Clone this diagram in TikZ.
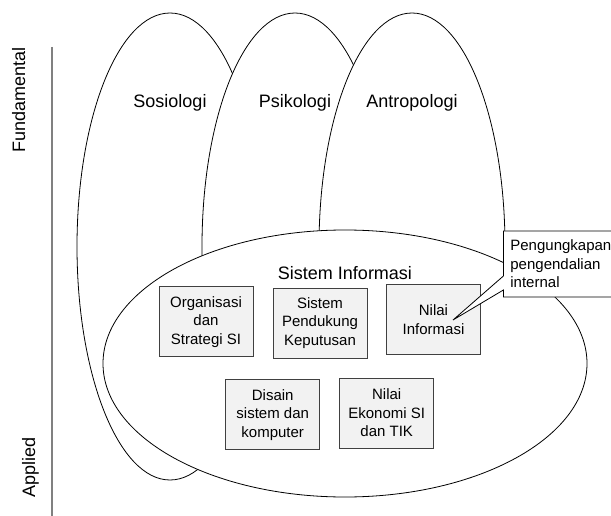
\documentclass[tikz,border=0pt]{standalone}
\usepackage{fontspec}
\setmainfont{Liberation Sans}
\usetikzlibrary{shapes.callouts}
\definecolor{boxfill}{HTML}{F2F2F2}
\definecolor{boxline}{HTML}{404040}
\definecolor{axisgray}{HTML}{808080}
\begin{document}
\begin{tikzpicture}[x=1pt,y=-1pt,
  field/.style={draw=black,fill=white,line width=0.8pt},
  topic/.style={draw=boxline,fill=boxfill,line width=0.9pt,minimum width=94pt,minimum height=70pt,inner sep=2pt,align=center,font=\fontsize{15}{18.5}\selectfont},
  big/.style={font=\fontsize{18}{22}\selectfont}]
\useasboundingbox (0,0) rectangle (611,516);
\draw[axisgray,line width=1.5pt] (52,47) -- (52,516);
\node[big,rotate=90,anchor=base] (fund) at (25,100) {Fundamental};
\node[big,rotate=90,anchor=base] (appl) at (35,467.5) {Applied};
\draw[field] (170,246.5) ellipse (93pt and 233.5pt);
\draw[field] (295,246.5) ellipse (93pt and 233.5pt);
\draw[field] (412,246.5) ellipse (93pt and 233.5pt);
\node[big] (sos) at (170,103) {Sosiologi};
\node[big] (psi) at (295,103) {Psikologi};
\node[big] (antro) at (412,103) {Antropologi};
\draw[field] (345,363.5) ellipse (242pt and 133.5pt);
\node[big] (si) at (345,273.5) {Sistem Informasi};
\node[topic] (org) at (206,321.7) {Organisasi\\dan\\Strategi SI};
\node[topic] (spk) at (320,323) {Sistem\\Pendukung\\Keputusan};
\node[topic] (nilai) at (433.5,319.7) {Nilai\\Informasi};
\node[topic] (disain) at (272.7,414.7) {Disain\\sistem dan\\komputer};
\node[topic] (ekonomi) at (386.7,413) {Nilai\\Ekonomi SI\\dan TIK};
\coordinate (tip) at (453,320);
\node[rectangle callout,draw=black,fill=white,line width=0.8pt,callout absolute pointer={(tip)},callout pointer width=14pt,
  anchor=west,text width=100pt,minimum height=66pt,inner xsep=7pt,align=left,font=\fontsize{15}{18.5}\selectfont] (note) at (503,264) {Pengungkapan\\pengendalian\\internal};
\end{tikzpicture}
\end{document}
